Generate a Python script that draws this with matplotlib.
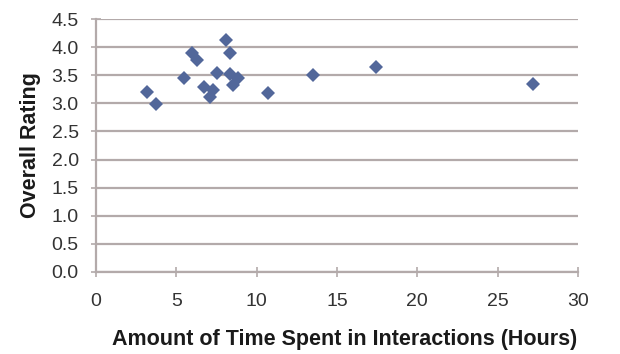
import numpy as np
import matplotlib.pyplot as plt

plt.rcParams['font.family'] = ['Liberation Sans', 'DejaVu Sans']

# hours spent in interactions vs overall rating
hours = [3.2, 3.7, 5.5, 6.0, 6.3, 6.7, 7.1, 7.3, 7.55, 8.1, 8.35, 8.35, 8.55, 8.85,
         10.7, 13.5, 17.4, 27.2]
rating = [3.21, 2.99, 3.45, 3.90, 3.77, 3.30, 3.12, 3.24, 3.54, 4.12, 3.90, 3.52, 3.33, 3.46,
          3.19, 3.51, 3.65, 3.34]

x_ticks = [0, 5, 10, 15, 20, 25, 30]
y_ticks = np.arange(0, 4.51, 0.5)

fig = plt.figure(figsize=(6.2, 3.54), dpi=100)
ax = fig.add_axes([0.155, 0.232, 0.777, 0.714])

grid_col = '#b3aaaa'
ax.set_xlim(0, 30)
ax.set_ylim(0, 4.5)
ax.set_xticks(x_ticks)
ax.set_yticks(y_ticks)
ax.set_yticklabels(['%.1f' % v for v in y_ticks])
ax.yaxis.grid(True, color=grid_col, linewidth=1.6)
ax.set_axisbelow(True)

for s in ['top', 'right']:
    ax.spines[s].set_visible(False)
for s in ['left', 'bottom']:
    ax.spines[s].set_color(grid_col)
    ax.spines[s].set_linewidth(1.6)
ax.tick_params(direction='inout', length=7, width=1.2, color=grid_col,
               labelsize=14, labelcolor='#333333')
ax.tick_params(axis='x', pad=12)
ax.tick_params(axis='y', pad=9)

ax.plot(hours, rating, 'D', color='#52679a', markersize=7, markeredgewidth=0,
        clip_on=False)

ax.set_xlabel('Amount of Time Spent in Interactions (Hours)', fontsize=15.5,
              fontweight='bold', color='#1a1a1a', va='center')
ax.set_ylabel('Overall Rating', fontsize=15.5, fontweight='bold', color='#1a1a1a',
              va='center')
ax.xaxis.set_label_coords(0.5 + 8 / 482, -(340 - 272) / 253)
ax.yaxis.set_label_coords(-(97 - 31) / 482, 0.5)

fig.savefig('out.png', dpi=100)
